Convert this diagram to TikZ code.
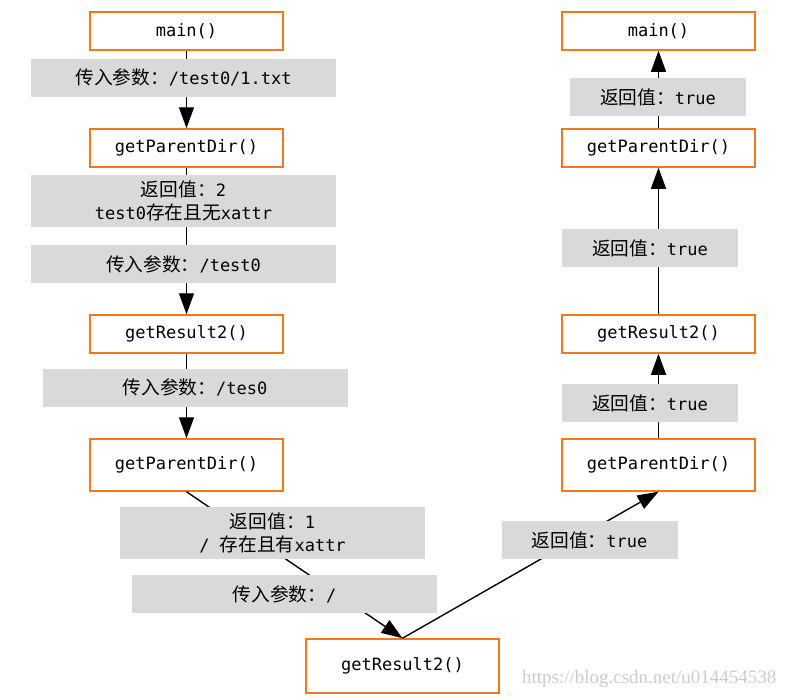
\documentclass[tikz,border=0pt]{standalone}
\usepackage{fontspec}
\setmainfont{DejaVu Sans Mono}
\newfontfamily\cjk{Noto Sans CJK SC}[Scale=1.1]
\newfontfamily\markfont{Liberation Serif}
\usetikzlibrary{arrows.meta}

\newcommand{\zh}[1]{{\cjk #1}}

\def\funcWidth{193}
\def\funcHeight{38}
\def\tallHeight{52}
\def\noteWidth{305}
\def\shortWidth{176}

\definecolor{funcOrange}{RGB}{240,120,30}
\definecolor{noteGrey}{RGB}{217,217,217}

\tikzset{
    func/.style = {draw = funcOrange, line width = 1.5pt, fill = white,
        minimum width = \funcWidth pt, minimum height = \funcHeight pt,
        inner sep = 0pt, font = \fontsize{17}{20}\selectfont},
    note/.style = {fill = noteGrey, inner sep = 0pt, align = center,
        minimum width = \noteWidth pt, minimum height = \funcHeight pt,
        font = \fontsize{17}{23}\selectfont},
    call/.style = {line width = 1.4pt, -{Triangle[length = 21pt, width = 15pt]}},
}

\begin{document}
\begin{tikzpicture}[x = 1pt, y = -1pt]
    \useasboundingbox (0,0) rectangle (790,699);

    % the calls going down
    \node [func] (mainL) at (186.5,31) {main()};
    \node [func] (parentA) at (186.5,148) {getParentDir()};
    \node [func] (resultA) at (186.5,334) {getResult2()};
    \node [func, minimum height = \tallHeight pt] (parentB) at (186.5,465) {getParentDir()};
    \node [func, minimum height = 54pt] (resultB) at (402.5,666) {getResult2()};

    % the returns going up
    \node [func, minimum height = \tallHeight pt] (parentC) at (658.5,465) {getParentDir()};
    \node [func] (resultC) at (658.5,334) {getResult2()};
    \node [func] (parentD) at (658.5,148) {getParentDir()};
    \node [func] (mainR) at (658.5,31) {main()};

    \draw [call] (mainL) -- (parentA);
    \draw [call] (parentA) -- (resultA);
    \draw [call] (resultA) -- (parentB);
    \draw [call] (parentB.south) -- (resultB.north);
    \draw [call] (resultB.north) -- (parentC.south);
    \draw [call] (parentC) -- (resultC);
    \draw [call] (resultC) -- (parentD);
    \draw [call] (parentD) -- (mainR);

    \node [note] (argA) at (183.5,77.5) {\zh{传入参数：}/test0/1.txt};
    \node [note, minimum height = \tallHeight pt] (retA) at (183.5,201)
        {\zh{返回值：}2\\test0\zh{存在且无}xattr};
    \node [note] (argB) at (183.5,264) {\zh{传入参数：}/test0};
    \node [note] (argC) at (195,387.5) {\zh{传入参数：}/tes0};
    \node [note, minimum height = \tallHeight pt] (retB) at (272.5,533)
        {\zh{返回值：}1\\/ \zh{存在且有}xattr};
    \node [note] (argD) at (284.5,594) {\zh{传入参数：}/};

    \node [note, minimum width = \shortWidth pt] (retC) at (589.5,540) {\zh{返回值：}true};
    \node [note, minimum width = \shortWidth pt] (retD) at (650,403) {\zh{返回值：}true};
    \node [note, minimum width = \shortWidth pt] (retE) at (650,248) {\zh{返回值：}true};
    \node [note, minimum width = \shortWidth pt] (retF) at (658,97) {\zh{返回值：}true};

    \node [anchor = east, text = black!20, font = \markfont\fontsize{19}{22}\selectfont]
        (mark) at (780,679) {https://blog.csdn.net/u014454538};
\end{tikzpicture}
\end{document}
